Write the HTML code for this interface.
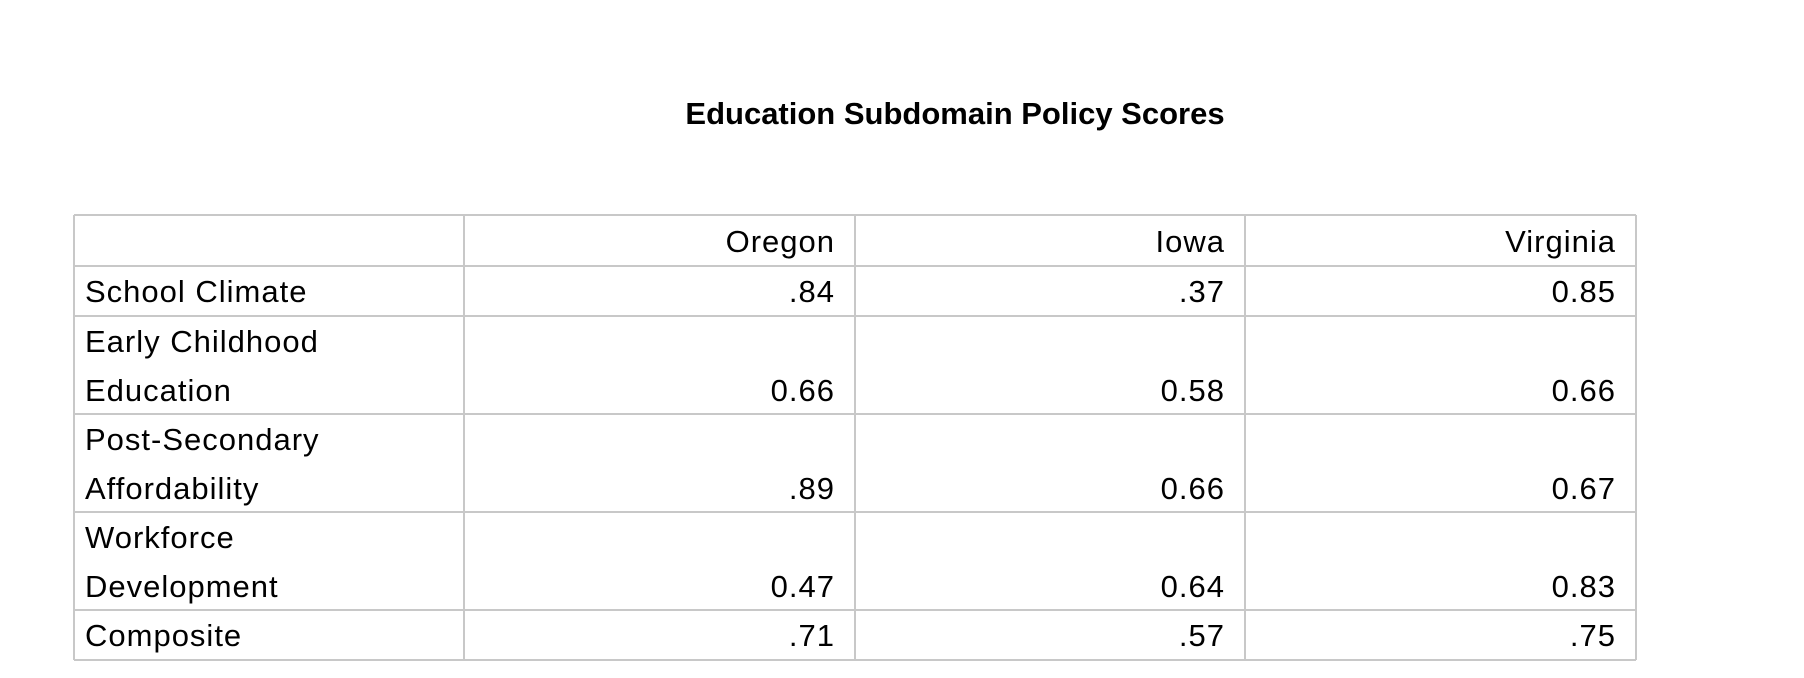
<!DOCTYPE html>
<html><head><meta charset="utf-8"><style>
html,body{margin:0;padding:0;background:#fff;width:1804px;height:678px;overflow:hidden}
svg{display:block}
text{font-family:"Liberation Sans",sans-serif;fill:#000}
</style></head><body>
<svg id="chart" width="1804" height="678" viewBox="0 0 1804 678"></svg>
<script>
const columns = ["Oregon", "Iowa", "Virginia"];
const rowLabels = [["School Climate"], ["Early Childhood", "Education"], ["Post-Secondary", "Affordability"], ["Workforce", "Development"], ["Composite"]];
const oregonValues = [".84", "0.66", ".89", "0.47", ".71"];
const iowaValues = [".37", "0.58", "0.66", "0.64", ".57"];
const virginiaValues = ["0.85", "0.66", "0.67", "0.83", ".75"];
const series = [oregonValues, iowaValues, virginiaValues];

const NS = "http://www.w3.org/2000/svg";
const svg = document.getElementById("chart");
const colX = [74, 464, 855, 1245, 1636];
const lineH = 49;
const top0 = 215, headH = 51;
const FS = 31, LS = 1;
function mk(tag, attrs){const e=document.createElementNS(NS,tag);for(const k in attrs)e.setAttribute(k,attrs[k]);svg.appendChild(e);return e;}

const title = mk("text",{x:955,y:124,"text-anchor":"middle","font-size":31,"font-weight":"bold"});
title.textContent = "Education Subdomain Policy Scores";



const ys=[top0, top0+headH];
rowLabels.forEach(r=>{ys.push(ys[ys.length-1]+r.length*lineH+ (r.length>1?0:1));});

columns.forEach((c,i)=>{
  const t=mk("text",{x:colX[i+2]-20,y:top0+37,"text-anchor":"end","font-size":FS,"letter-spacing":LS});
  t.textContent=c;
  
  
});
rowLabels.forEach((lines,r)=>{
  const y0=ys[r+1];
  lines.forEach((l,j)=>{
    const t=mk("text",{x:colX[0]+11,y:y0+36+j*lineH,"font-size":FS,"letter-spacing":LS});
    t.textContent=l;
    
    
  });
  series.forEach((s,i)=>{
    const t=mk("text",{x:colX[i+2]-20,y:y0+36+(lines.length-1)*lineH,"text-anchor":"end","font-size":FS,"letter-spacing":LS});
    t.textContent=s[r];
    
    
  });
});
ys.forEach(y=>{
  const l=mk("line",{x1:colX[0],x2:colX[4],y1:y,y2:y,stroke:"#c8c8c8","stroke-width":2});
  
  
});
colX.forEach(x=>{
  const l=mk("line",{x1:x,x2:x,y1:ys[0],y2:ys[ys.length-1],stroke:"#c8c8c8","stroke-width":2});
  
  
});
</script>
</body></html>
